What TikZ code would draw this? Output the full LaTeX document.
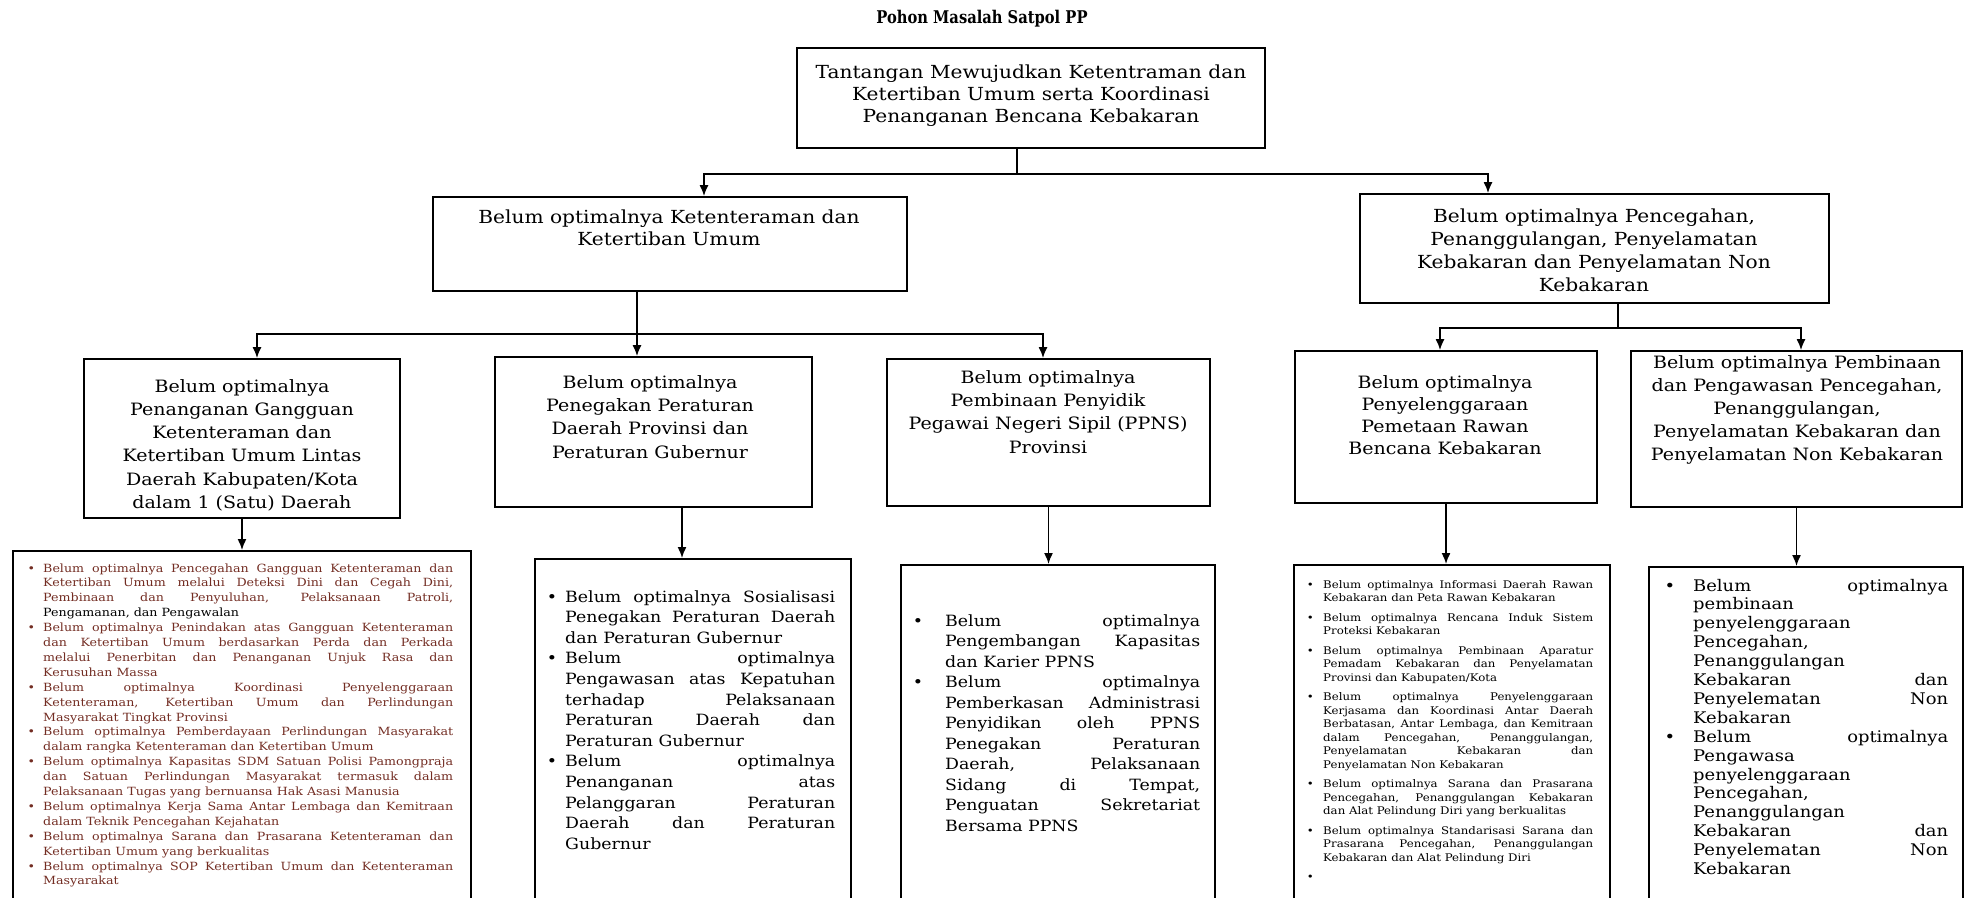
\documentclass[tikz,border=0pt]{standalone}
\usepackage{fontspec}
\setmainfont[FakeStretch=1.12]{DejaVu Serif}
\newfontfamily\judulfont[FakeStretch=0.84]{DejaVu Serif}
\usetikzlibrary{positioning,arrows.meta,calc}
\definecolor{bata}{RGB}{115,45,35}
\newcommand{\butir}[2]{\noindent\llap{\textbullet\hspace*{#1}}#2\par}
\tikzset{
    box/.style = {
        draw,
        shape=rectangle,
        line width=1.8pt,
        inner sep=0pt
    },
    boxtext/.style = {
        align=center,
        inner sep=0pt,
        anchor=base
    },
    listtext/.style = {
        align=justify,
        inner sep=0pt,
        anchor=base west
    },
    link/.style = {
        line width=1.5pt
    },
    >={Latex[length=11pt,width=9pt]},
}
\begin{document}
\begin{tikzpicture}[x=1pt,y=-1pt]
                \useasboundingbox (0,0) rectangle (1964,897);
                \clip (0,0) rectangle (1964,897);

                \node[font=\judulfont\fontsize{17.5}{20}\selectfont\bfseries] (judul) at (982,19) {Pohon Masalah Satpol PP};

                % kotak atas
                \node[box, minimum width=468, minimum height=100] (root) at (1031,98) {};
                \node[box, minimum width=474, minimum height=94] (tibum) at (670,244) {};
                \node[box, minimum width=469, minimum height=109] (damkar) at (1594.5,248.5) {};

                \node[box, minimum width=316, minimum height=159] (gangguan) at (242,438.5) {};
                \node[box, minimum width=317, minimum height=150] (perda) at (653.5,432) {};
                \node[box, minimum width=323, minimum height=147] (ppns) at (1048.5,432.5) {};
                \node[box, minimum width=302, minimum height=152] (rawan) at (1446,427) {};
                \node[box, minimum width=331, minimum height=156] (binwas) at (1796.5,429) {};

                % kotak bawah (terpotong di tepi bawah)
                \node[box, minimum width=458, minimum height=380, anchor=north west] (gangguanList) at (12,550) {};
                \node[box, minimum width=316, minimum height=380, anchor=north west] (perdaList) at (534,558) {};
                \node[box, minimum width=314, minimum height=380, anchor=north west] (ppnsList) at (900,564) {};
                \node[box, minimum width=316, minimum height=380, anchor=north west] (rawanList) at (1293,564) {};
                \node[box, minimum width=314, minimum height=380, anchor=north west] (binwasList) at (1648,566) {};

                % teks kotak (base = baris terakhir)
                \node[boxtext, font=\fontsize{18}{22}\selectfont] (rootText) at (1031,122)
                {Tantangan Mewujudkan Ketentraman dan\\Ketertiban Umum serta Koordinasi\\Penanganan Bencana Kebakaran};
                \node[boxtext, font=\fontsize{18}{22.5}\selectfont] (tibumText) at (669,245.5)
                {Belum optimalnya Ketenteraman dan\\Ketertiban Umum};
                \node[boxtext, font=\fontsize{18}{23}\selectfont] (damkarText) at (1594,291)
                {Belum optimalnya Pencegahan,\\Penanggulangan, Penyelamatan\\Kebakaran dan Penyelamatan Non\\Kebakaran};

                \node[boxtext, font=\fontsize{17}{23.3}\selectfont] (gangguanText) at (242,508.5)
                {Belum optimalnya\\Penanganan Gangguan\\Ketenteraman dan\\Ketertiban Umum Lintas\\Daerah Kabupaten/Kota\\dalam 1 (Satu) Daerah};
                \node[boxtext, font=\fontsize{17}{23.3}\selectfont] (perdaText) at (650,458)
                {Belum optimalnya\\Penegakan Peraturan\\Daerah Provinsi dan\\Peraturan Gubernur};
                \node[boxtext, font=\fontsize{17}{23.3}\selectfont] (ppnsText) at (1048,453)
                {Belum optimalnya\\Pembinaan Penyidik\\Pegawai Negeri Sipil (PPNS)\\Provinsi};
                \node[boxtext, font=\fontsize{17}{22}\selectfont] (rawanText) at (1445,454)
                {Belum optimalnya\\Penyelenggaraan\\Pemetaan Rawan\\Bencana Kebakaran};
                \node[boxtext, font=\fontsize{17}{23}\selectfont] (binwasText) at (1797,460)
                {Belum optimalnya Pembinaan\\dan Pengawasan Pencegahan,\\Penanggulangan,\\Penyelamatan Kebakaran dan\\Penyelamatan Non Kebakaran};

                % isi daftar
                \node[listtext, text width=410, font=\fontsize{11.3}{14.9}\selectfont, text=bata] (gangguanItems) at (43,572) {%
                \tolerance=9999\hyphenpenalty=10000%
                \butir{8pt}{Belum optimalnya Pencegahan Gangguan Ketenteraman dan\linebreak Ketertiban Umum melalui Deteksi Dini dan Cegah Dini,\linebreak Pembinaan dan Penyuluhan, Pelaksanaan Patroli,\linebreak {\color{black}Pengamanan, dan Pengawalan}}
                \butir{8pt}{Belum optimalnya Penindakan atas Gangguan Ketenteraman\linebreak dan Ketertiban Umum berdasarkan Perda dan Perkada\linebreak melalui Penerbitan dan Penanganan Unjuk Rasa dan\linebreak Kerusuhan Massa}
                \butir{8pt}{Belum optimalnya Koordinasi Penyelenggaraan\linebreak Ketenteraman, Ketertiban Umum dan Perlindungan\linebreak Masyarakat Tingkat Provinsi}
                \butir{8pt}{Belum optimalnya Pemberdayaan Perlindungan Masyarakat\linebreak dalam rangka Ketenteraman dan Ketertiban Umum}
                \butir{8pt}{Belum optimalnya Kapasitas SDM Satuan Polisi Pamongpraja\linebreak dan Satuan Perlindungan Masyarakat termasuk dalam\linebreak Pelaksanaan Tugas yang bernuansa Hak Asasi Manusia}
                \butir{8pt}{Belum optimalnya Kerja Sama Antar Lembaga dan Kemitraan\linebreak dalam Teknik Pencegahan Kejahatan}
                \butir{8pt}{Belum optimalnya Sarana dan Prasarana Ketenteraman dan\linebreak Ketertiban Umum yang berkualitas}
                \butir{8pt}{Belum optimalnya SOP Ketertiban Umum dan Ketenteraman\linebreak Masyarakat}};

                \node[listtext, text width=270, font=\fontsize{15.5}{20.6}\selectfont] (perdaItems) at (565,602) {%
                \tolerance=9999\hyphenpenalty=10000%
                \butir{8pt}{Belum optimalnya Sosialisasi\linebreak Penegakan Peraturan Daerah\linebreak dan Peraturan Gubernur}
                \butir{8pt}{Belum optimalnya\linebreak Pengawasan atas Kepatuhan\linebreak terhadap Pelaksanaan\linebreak Peraturan Daerah dan\linebreak Peraturan Gubernur}
                \butir{8pt}{Belum optimalnya\linebreak Penanganan atas\linebreak Pelanggaran Peraturan\linebreak Daerah dan Peraturan\linebreak Gubernur}};

                \node[listtext, text width=255, font=\fontsize{15.5}{20.5}\selectfont] (ppnsItems) at (945,626) {%
                \tolerance=9999\hyphenpenalty=10000%
                \butir{22pt}{Belum optimalnya\linebreak Pengembangan Kapasitas\linebreak dan Karier PPNS}
                \butir{22pt}{Belum optimalnya\linebreak Pemberkasan Administrasi\linebreak Penyidikan oleh PPNS\linebreak Penegakan Peraturan\linebreak Daerah, Pelaksanaan\linebreak Sidang di Tempat,\linebreak Penguatan Sekretariat\linebreak Bersama PPNS}};

                \node[listtext, text width=270, font=\fontsize{10.5}{13.5}\selectfont] (rawanItems) at (1323,588) {%
                \tolerance=9999\hyphenpenalty=10000\setlength{\parskip}{6pt}%
                \butir{9.5pt}{Belum optimalnya Informasi Daerah Rawan\linebreak Kebakaran dan Peta Rawan Kebakaran}
                \butir{9.5pt}{Belum optimalnya Rencana Induk Sistem\linebreak Proteksi Kebakaran}
                \butir{9.5pt}{Belum optimalnya Pembinaan Aparatur\linebreak Pemadam Kebakaran dan Penyelamatan\linebreak Provinsi dan Kabupaten/Kota}
                \butir{9.5pt}{Belum optimalnya Penyelenggaraan\linebreak Kerjasama dan Koordinasi Antar Daerah\linebreak Berbatasan, Antar Lembaga, dan Kemitraan\linebreak dalam Pencegahan, Penanggulangan,\linebreak Penyelamatan Kebakaran dan\linebreak Penyelamatan Non Kebakaran}
                \butir{9.5pt}{Belum optimalnya Sarana dan Prasarana\linebreak Pencegahan, Penanggulangan Kebakaran\linebreak dan Alat Pelindung Diri yang berkualitas}
                \butir{9.5pt}{Belum optimalnya Standarisasi Sarana dan\linebreak Prasarana Pencegahan, Penanggulangan\linebreak Kebakaran dan Alat Pelindung Diri}
                \butir{9.5pt}{\mbox{}}};

                \node[listtext, text width=255, font=\fontsize{16}{18.9}\selectfont] (binwasItems) at (1693,591) {%
                \tolerance=9999\hyphenpenalty=10000%
                \butir{18pt}{Belum optimalnya\linebreak pembinaan\linebreak penyelenggaraan\linebreak Pencegahan,\linebreak Penanggulangan\linebreak Kebakaran dan\linebreak Penyelematan Non\linebreak Kebakaran}
                \butir{18pt}{Belum optimalnya\linebreak Pengawasa\linebreak penyelenggaraan\linebreak Pencegahan,\linebreak Penanggulangan\linebreak Kebakaran dan\linebreak Penyelematan Non\linebreak Kebakaran}};

                % penghubung
                \coordinate (rootHub) at (1017,174);
                \coordinate (tibumHub) at (637,334);
                \coordinate (damkarHub) at (1618,328);
                \coordinate (perdaOut) at ($(perda.south)+(28.5,0)$);

                \path[draw, link] (root.south -| rootHub) -- (rootHub);
                \path[draw, link, ->] (rootHub) -| ($(tibum.north)+(34,0)$);
                \path[draw, link, ->] (rootHub) -| ($(damkar.north)+(-106.5,0)$);

                \path[draw, link] (tibum.south -| tibumHub) -- (tibumHub);
                \path[draw, link, ->] (tibumHub) -| ($(gangguan.north)+(15,0)$);
                \path[draw, link, ->] (tibumHub) -- (tibumHub |- perda.north);
                \path[draw, link, ->] (tibumHub) -| ($(ppns.north)+(-5.5,0)$);

                \path[draw, link] (damkar.south -| damkarHub) -- (damkarHub);
                \path[draw, link, ->] (damkarHub) -| ($(rawan.north)+(-6,0)$);
                \path[draw, link, ->] (damkarHub) -| ($(binwas.north)+(4.5,0)$);

                \path[draw, link, ->] (gangguan.south) -- (gangguan.south |- gangguanList.north);
                \path[draw, link, ->] (perdaOut) -- (perdaOut |- perdaList.north);
                \path[draw, link, ->] (ppns.south) -- (ppns.south |- ppnsList.north);
                \path[draw, link, ->] (rawan.south) -- (rawan.south |- rawanList.north);
                \path[draw, link, ->] (binwas.south) -- (binwas.south |- binwasList.north);
\end{tikzpicture}
\end{document}
